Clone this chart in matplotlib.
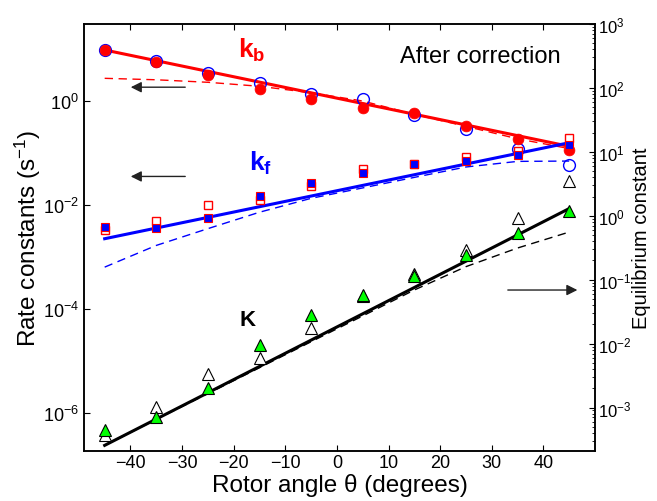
import matplotlib
matplotlib.use("Agg")
import matplotlib.pyplot as plt
from matplotlib.ticker import FixedLocator, NullLocator, LogLocator

plt.rcParams["font.family"] = ["Liberation Sans", "DejaVu Sans"]
plt.rcParams["mathtext.fontset"] = "custom"
plt.rcParams["mathtext.rm"] = "Liberation Sans"
plt.rcParams["mathtext.it"] = "Liberation Sans:italic"
plt.rcParams["mathtext.bf"] = "Liberation Sans:bold"
plt.rcParams["mathtext.default"] = "regular"

# rotor angles (degrees)
theta = [-45, -35, -25, -15, -5, 5, 15, 25, 35, 45]

# backward rate constant k_b (s^-1)
kb_filled = [9.57, 5.62, 3.16, 1.73, 1.08, 0.747, 0.58, 0.33, 0.183, 0.114]
kb_open = [9.57, 5.8, 3.4, 2.26, 1.35, 1.08, 0.53, 0.295, 0.118, 0.058]
kb_dash = [2.73, 2.56, 2.29, 1.92, 1.44, 1.0, 0.555, 0.326, 0.188, 0.122]

# forward rate constant k_f (s^-1)
kf_filled = [3.84e-3, 3.61e-3, 5.55e-3, 1.49e-2, 2.70e-2, 4.07e-2, 6.25e-2, 7.02e-2, 9.03e-2, 0.141]
kf_open = [3.31e-3, 4.92e-3, 1.0e-2, 1.25e-2, 2.37e-2, 5.0e-2, 6.3e-2, 8.38e-2, 0.109, 0.198]
kf_dash = [6.43e-4, 1.68e-3, 3.53e-3, 7.30e-3, 1.35e-2, 2.14e-2, 3.41e-2, 5.40e-2, 6.92e-2, 7.02e-2]

# equilibrium constant K
K_filled = [4.53e-4, 7.23e-4, 2.01e-3, 9.55e-3, 2.81e-2, 5.77e-2, 0.1155, 0.243, 0.537, 1.197]
K_open = [3.74e-4, 1.01e-3, 3.36e-3, 5.91e-3, 1.74e-2, 5.5e-2, 0.123, 0.294, 0.91, 3.52]
K_dash = [2.56e-4, 6.52e-4, 1.65e-3, 4.2e-3, 1.07e-2, 2.71e-2, 6.9e-2, 0.16, 0.313, 0.556]

# exponential fits (straight on log axis), end points
fit_theta = [-45, 45]
kb_fit = [9.57, 0.1346]
kf_fit = [2.26e-3, 0.158]
K_fit = [2.56e-4, 1.296]

fig = plt.figure(figsize=(6.57, 5.02), dpi=100)
ax = fig.add_axes([0.1279, 0.0996, 0.7777, 0.8506])
ax2 = ax.twinx()

# left axis: rate constants
ax.semilogy(fit_theta, kb_fit, "-", color="red", lw=2.2, zorder=2)
ax.semilogy(theta, kb_dash, "--", color="red", lw=1.0, dashes=(6, 4), zorder=2)
ax.semilogy(fit_theta, kf_fit, "-", color="blue", lw=2.2, zorder=2)
ax.semilogy(theta, kf_dash, "--", color="blue", lw=1.0, dashes=(6, 4), zorder=2)
ax.semilogy(theta, kb_open, "o", ms=8.5, mfc="none", mec="blue", mew=1.0, zorder=3)
ax.semilogy(theta, kb_filled, "o", ms=7.8, mfc="red", mec="red", mew=0.5, zorder=4)
ax.semilogy(theta, kf_open, "s", ms=6, mfc="white", mec="red", mew=1.0, zorder=3)
ax.semilogy(theta, kf_filled, "s", ms=6, mfc="blue", mec="red", mew=0.8, zorder=4)

# right axis: equilibrium constant
ax2.semilogy(fit_theta, K_fit, "-", color="black", lw=2.2, zorder=2)
ax2.semilogy(theta, K_dash, "--", color="black", lw=1.0, dashes=(6, 4), zorder=2)
ax2.semilogy(theta, K_open, "^", ms=8, mfc="white", mec="black", mew=0.8, zorder=3)
ax2.semilogy(theta, K_filled, "^", ms=8, mfc="lime", mec="black", mew=0.8, zorder=4)

ax.set_xlim(-49, 50)
ax.set_ylim(10 ** -6.725, 10 ** 1.48)
ax2.set_ylim(10 ** -3.68, 10 ** 3)

ax.set_xticks(range(-40, 41, 10))
ax.yaxis.set_major_locator(FixedLocator([1e-6, 1e-4, 1e-2, 1]))
ax.yaxis.set_minor_locator(NullLocator())
ax2.yaxis.set_major_locator(FixedLocator([1e-3, 1e-2, 1e-1, 1, 1e1, 1e2, 1e3]))
ax2.yaxis.set_minor_locator(LogLocator(base=10, subs=range(2, 10), numticks=20))

ax.tick_params(axis="both", which="major", direction="in", length=4, width=0.8,
               labelsize=13, top=True)
ax.tick_params(axis="x", which="major", pad=2.5)
ax.tick_params(axis="x", which="minor", bottom=False, top=False)
ax2.tick_params(axis="y", which="major", direction="in", length=4, width=0.8,
                labelsize=12, pad=2)
ax2.tick_params(axis="y", which="minor", direction="in", length=2, width=0.6)

for a in (ax, ax2):
    for s in a.spines.values():
        s.set_linewidth(1.1)

ax.set_xlabel("Rotor angle θ (degrees)", fontsize=17.5, labelpad=1)
ax.set_ylabel("Rate constants (s$^{-1}$)", fontsize=17.5)
ax2.set_ylabel("Equilibrium constant", fontsize=14.5)
ax.yaxis.set_label_coords(-0.080, 0.5)
ax2.yaxis.set_label_coords(1.072, 0.5)

ax.text(0.301, 0.941, r"$\mathbf{k_b}$", color="red", fontsize=19,
        transform=ax.transAxes, ha="left", va="center")
ax.text(0.323, 0.677, r"$\mathbf{k_f}$", color="blue", fontsize=19,
        transform=ax.transAxes, ha="left", va="center")
ax.text(0.305, 0.307, "K", color="black", fontsize=16, fontweight="bold",
        transform=ax.transAxes, ha="left", va="center")
ax.text(0.618, 0.925, "After correction", color="black", fontsize=17,
        transform=ax.transAxes, ha="left", va="center")

arrow = dict(arrowstyle="-|>", color="#222222", lw=1.0, mutation_scale=16)
ax.annotate("", xy=(0.086, 0.852), xytext=(0.2035, 0.852),
            xycoords="axes fraction", arrowprops=arrow)
ax.annotate("", xy=(0.086, 0.643), xytext=(0.2035, 0.643),
            xycoords="axes fraction", arrowprops=arrow)
ax.annotate("", xy=(0.971, 0.377), xytext=(0.824, 0.377),
            xycoords="axes fraction", arrowprops=arrow)

fig.savefig("out.png", dpi=100)
